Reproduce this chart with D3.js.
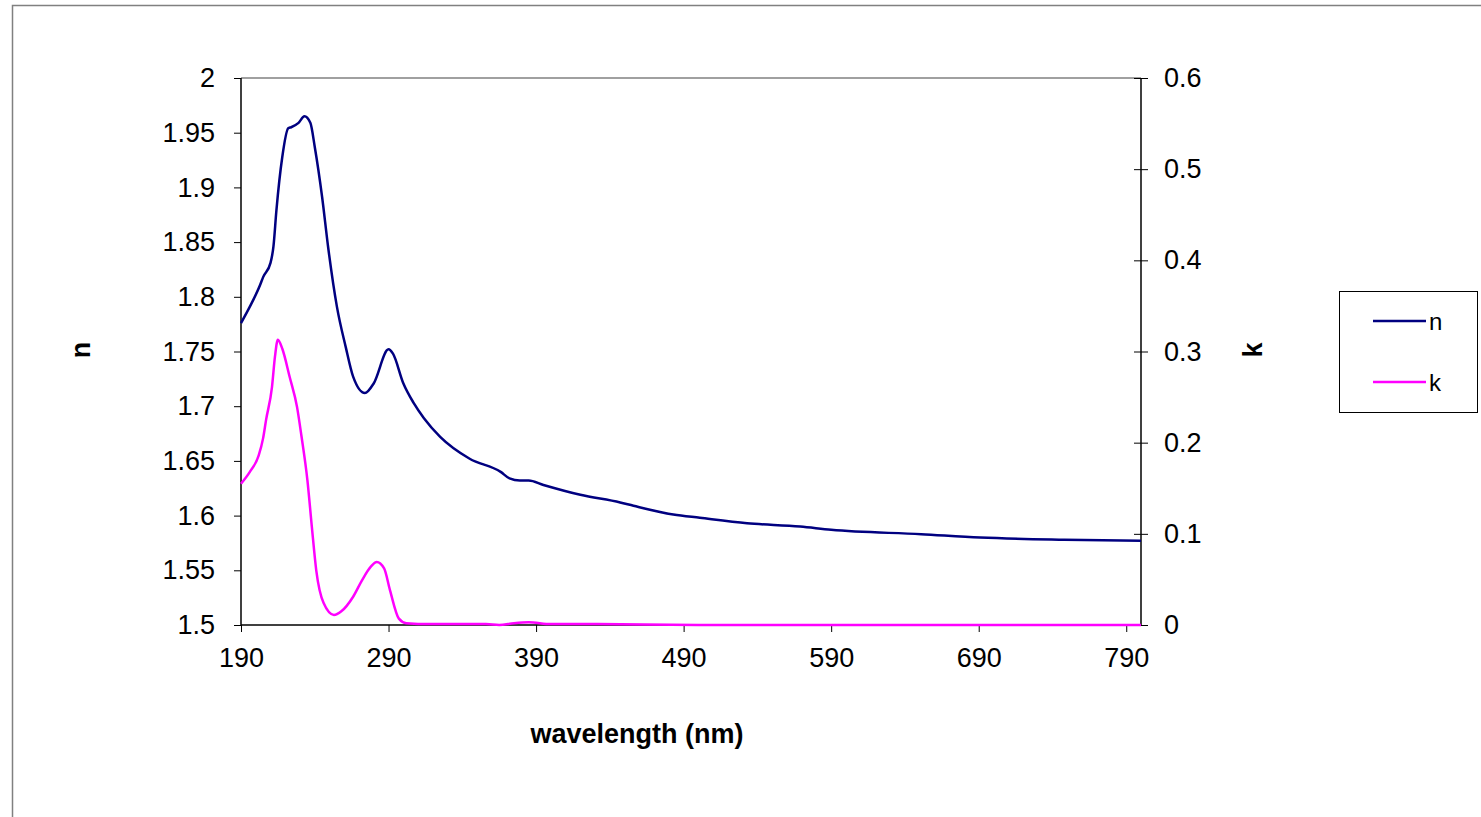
<!DOCTYPE html>
<html>
<head>
<meta charset="utf-8">
<script src="https://cdn.jsdelivr.net/npm/d3@7"></script>
<style>
  body { margin: 0; background: #fff; }
  svg text { font-family: "Liberation Sans", Arial, sans-serif; }
</style>
</head>
<body>
<svg id="chart" width="1481" height="817"></svg>
<script>
// refractive index n (left axis)
const nWave = [190, 196, 203, 205, 210, 212, 214, 218, 222, 224, 229, 233, 237, 240, 245, 249, 255, 261, 266, 274, 280, 290, 293, 300, 307, 314, 325, 345, 366, 372, 379, 385, 395, 420, 447, 456, 483, 501, 533, 569, 590, 651, 691, 748, 800];
const nVals = [1.776, 1.791, 1.811, 1.818, 1.831, 1.846, 1.879, 1.928, 1.954, 1.955, 1.959, 1.965, 1.959, 1.937, 1.891, 1.846, 1.791, 1.754, 1.727, 1.712, 1.721, 1.752, 1.748, 1.721, 1.703, 1.689, 1.672, 1.652, 1.640, 1.634, 1.632, 1.632, 1.628, 1.619, 1.612, 1.609, 1.601, 1.598, 1.593, 1.590, 1.587, 1.583, 1.580, 1.578, 1.577];

// extinction coefficient k (right axis)
const kWave = [190, 196, 202, 205, 207, 211, 213, 215, 218, 223, 228, 231, 235, 238, 241, 246, 253, 258, 266, 272, 278, 282, 287, 291, 297, 302, 318, 350, 356, 365, 375, 385, 400, 430, 500, 600, 700, 800];
const kVals = [0.155, 0.168, 0.186, 0.205, 0.225, 0.261, 0.294, 0.313, 0.303, 0.272, 0.239, 0.207, 0.159, 0.108, 0.060, 0.024, 0.011, 0.015, 0.031, 0.049, 0.064, 0.069, 0.062, 0.038, 0.007, 0.002, 0.001, 0.001, 0.001, 0.000, 0.002, 0.003, 0.001, 0.001, 0.000, 0.000, 0.000, 0.000];

const xTicks = [190, 290, 390, 490, 590, 690, 790];
const nTicks = [1.5, 1.55, 1.6, 1.65, 1.7, 1.75, 1.8, 1.85, 1.9, 1.95, 2];
const kTicks = [0, 0.1, 0.2, 0.3, 0.4, 0.5, 0.6];

const svg = d3.select("#chart");
const plot = { left: 241, right: 1141, top: 78, bottom: 625 };
const fontSize = "27px";

// outer chart frame
svg.append("rect")
  .attr("x", 12.5).attr("y", 5.5)
  .attr("width", 1500).attr("height", 900)
  .style("fill", "none").style("stroke", "#808080").style("stroke-width", 1.5);

let x = d3.scaleLinear().domain([190, 800]).range([plot.left, plot.right]);
let yN = d3.scaleLinear().domain([1.5, 2]).range([plot.bottom, plot.top]);
let yK = d3.scaleLinear().domain([0, 0.6]).range([plot.bottom, plot.top]);

// plot area border (top)
svg.append("line")
  .attr("x1", plot.left).attr("x2", plot.right)
  .attr("y1", plot.top).attr("y2", plot.top)
  .style("stroke", "#808080").style("stroke-width", 1.5);

const fmt = d => String(+d.toFixed(2));

let xAxis = svg.append("g")
  .attr("transform", `translate(0,${plot.bottom})`)
  .call(d3.axisBottom(x).tickValues(xTicks).tickSize(7).tickPadding(16).tickFormat(d3.format("d")));

let leftAxis = svg.append("g")
  .attr("transform", `translate(${plot.left},0)`)
  .call(d3.axisLeft(yN).tickValues(nTicks).tickSize(7).tickPadding(19).tickFormat(fmt));

let rightAxis = svg.append("g")
  .attr("transform", `translate(${plot.right},0)`)
  .call(d3.axisRight(yK).tickValues(kTicks).tickSize(7).tickPadding(16).tickFormat(fmt));

// right axis ticks cross the axis line
rightAxis.selectAll(".tick line").attr("x1", -7);

[xAxis, leftAxis, rightAxis].forEach(g => {
  g.select(".domain").style("stroke", "#000").style("stroke-width", 1.5);
  g.selectAll(".tick line").style("stroke", "#000").style("stroke-width", 1);
  g.selectAll(".tick text").style("font-size", fontSize).style("fill", "#000")
    .style("font-family", "'Liberation Sans', Arial, sans-serif");
});
xAxis.select(".domain").attr("d", `M${plot.left},0H${plot.right}`);
leftAxis.select(".domain").attr("d", `M0,${plot.top}V${plot.bottom}`);
rightAxis.select(".domain").attr("d", `M0,${plot.top}V${plot.bottom}`);

let nLine = d3.line()
  .x((d, i) => x(nWave[i]))
  .y(d => yN(d))
  .curve(d3.curveMonotoneX);

let kLine = d3.line()
  .x((d, i) => x(kWave[i]))
  .y(d => yK(d))
  .curve(d3.curveMonotoneX);

svg.append("path")
  .attr("d", kLine(kVals))
  .style("fill", "none").style("stroke", "#ff00ff").style("stroke-width", 2.5);

svg.append("path")
  .attr("d", nLine(nVals))
  .style("fill", "none").style("stroke", "#000080").style("stroke-width", 2.5);

// axis titles
svg.append("text")
  .attr("transform", "translate(90,350) rotate(-90)")
  .attr("text-anchor", "middle")
  .style("font-size", fontSize).style("font-weight", "bold")
  .text("n");

svg.append("text")
  .attr("transform", "translate(1262,350) rotate(-90)")
  .attr("text-anchor", "middle")
  .style("font-size", fontSize).style("font-weight", "bold")
  .text("k");

svg.append("text")
  .attr("x", 637).attr("y", 743)
  .attr("text-anchor", "middle")
  .style("font-size", fontSize).style("font-weight", "bold")
  .text("wavelength (nm)");

// legend
let legend = svg.append("g");
legend.append("rect")
  .attr("x", 1339.5).attr("y", 291.5).attr("width", 138).attr("height", 121)
  .style("fill", "#fff").style("stroke", "#000").style("stroke-width", 1);

let legendItems = [
  { label: "n", color: "#000080", y: 321 },
  { label: "k", color: "#ff00ff", y: 382 }
];
legend.selectAll(".item")
  .data(legendItems)
  .join("g")
  .each(function(d) {
    let g = d3.select(this);
    g.append("line")
      .attr("x1", 1373).attr("x2", 1426).attr("y1", d.y).attr("y2", d.y)
      .style("stroke", d.color).style("stroke-width", 2.5);
    g.append("text")
      .attr("x", 1429).attr("y", d.y + 9)
      .style("font-size", "24px")
      .text(d.label);
  });
</script>
</body>
</html>
